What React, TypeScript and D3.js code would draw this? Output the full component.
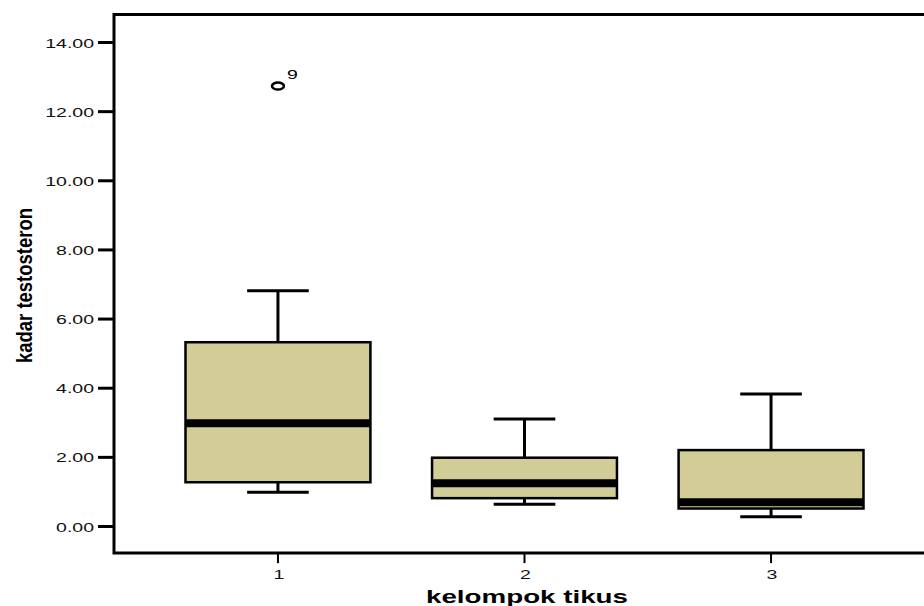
import React from "react";
import * as d3 from "d3";

// kadar testosteron per kelompok tikus
const groups = ["1", "2", "3"];
const lowerWhisker = [0.99, 0.64, 0.28];
const q1 = [1.28, 0.82, 0.52];
const median = [2.99, 1.25, 0.7];
const q3 = [5.33, 1.99, 2.21];
const upperWhisker = [6.82, 3.11, 3.83];
const outliers = [{ group: "1", value: 12.74, label: "9" }];
const yTicks = [0, 2, 4, 6, 8, 10, 12, 14];

const W = 924;
const H = 606;
const FONT = "Arial, 'Liberation Sans', sans-serif";
const BOX_FILL = "#d2cc97";

const App = () => {
    const y = d3.scaleLinear().domain([0, 14]).range([526.5, 42.5]);
    const x = d3
        .scalePoint<string>()
        .domain(groups)
        .range([114, 935])
        .padding(0.665);

    const step = x.step();
    const boxW = step * 0.75;
    const capW = step * 0.25;
    const frameTop = y(14.81);
    const frameBottom = y(-0.77);
    const frameLeft = 114;
    const frameRight = 935;

    return (
        <svg
            width={W}
            height={H}
            style={{ position: "absolute", left: 0, top: 0, display: "block" }}
        >
            <rect width={W} height={H} fill="white" />

            {/* boxes */}
            {groups.map((g, i) => {
                const cx = x(g) as number;
                return (
                    <g key={g}>
                        <line
                            x1={cx}
                            x2={cx}
                            y1={y(upperWhisker[i])}
                            y2={y(q3[i])}
                            stroke="black"
                            strokeWidth={3}
                        />
                        <line
                            x1={cx}
                            x2={cx}
                            y1={y(q1[i])}
                            y2={y(lowerWhisker[i])}
                            stroke="black"
                            strokeWidth={3}
                        />
                        <line
                            x1={cx - capW / 2}
                            x2={cx + capW / 2}
                            y1={y(upperWhisker[i])}
                            y2={y(upperWhisker[i])}
                            stroke="black"
                            strokeWidth={3}
                        />
                        <line
                            x1={cx - capW / 2}
                            x2={cx + capW / 2}
                            y1={y(lowerWhisker[i])}
                            y2={y(lowerWhisker[i])}
                            stroke="black"
                            strokeWidth={3}
                        />
                        <rect
                            x={cx - boxW / 2}
                            y={y(q3[i])}
                            width={boxW}
                            height={y(q1[i]) - y(q3[i])}
                            fill={BOX_FILL}
                            stroke="black"
                            strokeWidth={2.5}
                        />
                        <line
                            x1={cx - boxW / 2}
                            x2={cx + boxW / 2}
                            y1={y(median[i])}
                            y2={y(median[i])}
                            stroke="black"
                            strokeWidth={8}
                        />
                    </g>
                );
            })}

            {/* outliers */}
            {outliers.map(o => (
                <g key={o.label}>
                    <ellipse
                        cx={x(o.group) as number}
                        cy={y(o.value)}
                        rx={6}
                        ry={3.5}
                        fill="none"
                        stroke="black"
                        strokeWidth={2.5}
                    />
                    <text
                        transform={`translate(${(x(o.group) as number) + 9},${y(o.value) - 7}) scale(1.5,1)`}
                        fontFamily={FONT}
                        fontSize={13}
                        fill="black"
                    >
                        {o.label}
                    </text>
                </g>
            ))}

            {/* frame */}
            <path
                d={`M${frameRight},${frameTop}H${frameLeft}V${frameBottom}H${frameRight}`}
                fill="none"
                stroke="black"
                strokeWidth={3}
            />

            {/* y axis */}
            {yTicks.map(t => (
                <g key={t}>
                    <line
                        x1={98}
                        x2={frameLeft}
                        y1={y(t)}
                        y2={y(t)}
                        stroke="black"
                        strokeWidth={3}
                    />
                    <text
                        transform={`translate(94,${y(t) + 5}) scale(1.5,1)`}
                        textAnchor="end"
                        fontFamily={FONT}
                        fontSize={13}
                        fill="#111"
                    >
                        {t.toFixed(2)}
                    </text>
                </g>
            ))}

            {/* x axis */}
            {groups.map(g => (
                <g key={g}>
                    <line
                        x1={x(g) as number}
                        x2={x(g) as number}
                        y1={frameBottom}
                        y2={frameBottom + 10}
                        stroke="black"
                        strokeWidth={2}
                    />
                    <text
                        transform={`translate(${(x(g) as number) + 1},578.5) scale(1.5,1)`}
                        textAnchor="middle"
                        fontFamily={FONT}
                        fontSize={13}
                        fill="#111"
                    >
                        {g}
                    </text>
                </g>
            ))}

            <text
                transform={`translate(527,603) scale(1.5,1)`}
                textAnchor="middle"
                fontFamily={FONT}
                fontSize={18.5}
                fontWeight="bold"
                fill="black"
            >
                kelompok tikus
            </text>
            <text
                transform={`translate(32,285.5) scale(1.2,1) rotate(-90)`}
                textAnchor="middle"
                fontFamily={FONT}
                fontSize={18.5}
                fontWeight="bold"
                fill="black"
            >
                kadar testosteron
            </text>
        </svg>
    );
};

export default App;
